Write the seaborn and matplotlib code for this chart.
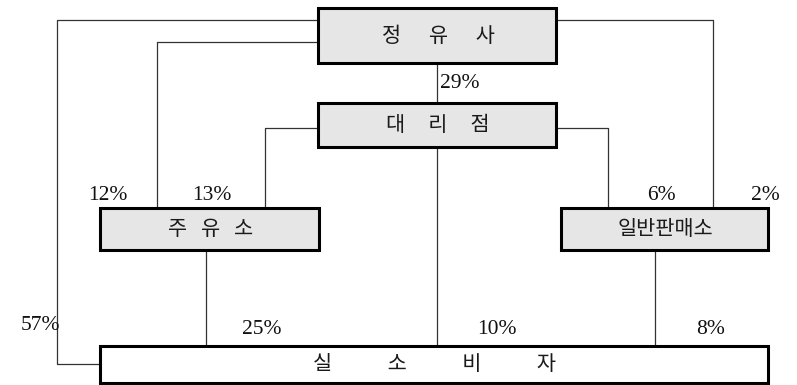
import matplotlib
matplotlib.use("Agg")
import matplotlib.pyplot as plt
import seaborn as sns
from matplotlib.patches import Rectangle

sns.set_theme(style="white")
plt.rcParams['font.family'] = ['Noto Sans CJK KR', 'DejaVu Sans']

# nodes of the distribution flow
node_names = ["정유사", "대리점", "주유소", "일반판매소", "실소비자"]
node_labels = ["정      유      사", "대     리     점", "주   유   소", "일반판매소",
               "실            소            비            자"]
node_fill = ["#e6e6e6", "#e6e6e6", "#e6e6e6", "#e6e6e6", "#ffffff"]

# flows (from, to) with share in percent
flow_from = ["정유사", "정유사", "정유사", "정유사", "대리점", "대리점", "대리점", "주유소", "일반판매소"]
flow_to = ["실소비자", "주유소", "대리점", "일반판매소", "주유소", "일반판매소", "실소비자", "실소비자", "실소비자"]
flow_pct = [57, 12, 29, 2, 13, 6, 10, 25, 8]

# layout (pixel space)
box = {
    "정유사": (318, 8, 556, 63),
    "대리점": (318, 103, 556, 147),
    "주유소": (100, 208, 319, 250),
    "일반판매소": (561, 208, 768, 250),
    "실소비자": (100, 346, 768, 383),
}
# path of each flow connector and label position
paths = [
    [(318, 20), (57, 20), (57, 364), (100, 364)],
    [(318, 42), (157, 42), (157, 208)],
    [(437, 63), (437, 103)],
    [(556, 20), (713, 20), (713, 208)],
    [(318, 128), (265, 128), (265, 208)],
    [(556, 128), (608, 128), (608, 208)],
    [(437, 147), (437, 346)],
    [(206, 250), (206, 346)],
    [(655, 250), (655, 346)],
]
label_pos = [(40, 325), (108, 195), (460, 84), (765, 195), (212, 195),
             (661, 195), (497, 330), (262, 330), (711, 330)]

fig = plt.figure(figsize=(7.97, 3.85), dpi=100)
ax = fig.add_axes([0, 0, 1, 1])
ax.set_xlim(0, 797)
ax.set_ylim(385, 0)
ax.axis("off")

for pts in paths:
    xs = [p[0] for p in pts]
    ys = [p[1] for p in pts]
    ax.plot(xs, ys, color="#333333", lw=0.9, zorder=1, solid_capstyle="butt")

for name, lab, fc in zip(node_names, node_labels, node_fill):
    x0, y0, x1, y1 = box[name]
    ax.add_patch(Rectangle((x0, y0), x1 - x0, y1 - y0, facecolor=fc,
                           edgecolor="black", lw=2.2, zorder=2))
    ax.text((x0 + x1) / 2 + 1, (y0 + y1) / 2, lab, ha="center", va="center",
            fontsize=15, color="#1a1a1a", zorder=3)

for pct, (lx, ly) in zip(flow_pct, label_pos):
    ax.text(lx, ly, f"{pct}%", ha="center", va="center", fontsize=15.5,
            family=["Liberation Serif", "DejaVu Serif"], color="#111111", zorder=3)

fig.savefig("out.png", dpi=100)
